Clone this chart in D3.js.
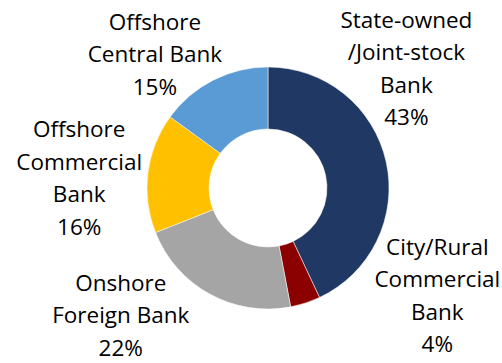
<!DOCTYPE html>
<html>
<head>
<meta charset="utf-8">
<script src="https://cdn.jsdelivr.net/npm/d3@7"></script>
<style>
  html, body { margin: 0; padding: 0; background: #fff; }
  svg { display: block; }
</style>
</head>
<body>
<svg id="chart" width="502" height="363"></svg>
<script>
var categories = ["State-owned\n/Joint-stock\nBank", "City/Rural\nCommercial\nBank", "Onshore\nForeign Bank", "Offshore\nCommercial\nBank", "Offshore\nCentral Bank"],
    shares = [43, 4, 22, 16, 15],
    colors = ["#203864", "#8b0000", "#a5a5a5", "#ffc000", "#5b9bd5"];

// label nudges from the arc centroid (layout only)
var nudge = [[-8, -87], [123, -35], [-75, -4], [-40, 9], [-45, 0]];

var svg = d3.select("#chart"),
    cx = 268,
    cy = 188,
    outer = 121,
    inner = 59,
    lineGap = 32.5;

var data = categories.map(function(c, i) {
  return {name: c, value: shares[i], color: colors[i], nudge: nudge[i]};
});

var pie = d3.pie().sort(null).value(d => d.value),
    arc = d3.arc().innerRadius(inner).outerRadius(outer),
    labelArc = d3.arc().innerRadius(150).outerRadius(150);

var g = svg.append("g").attr("transform", "translate(" + cx + "," + cy + ")");

var arcs = pie(data);

g.selectAll("path")
    .data(arcs)
    .enter()
    .append("path")
    .attr("d", arc)
    .attr("fill", d => d.data.color)
    .attr("stroke", "#fff")
    .attr("stroke-width", 0.5);

var labels = g.selectAll("text")
    .data(arcs)
    .enter()
    .append("text")
    .attr("text-anchor", "middle")
    .attr("font-family", "'Open Sans', sans-serif")
    .attr("font-size", "22.5px")
    .attr("fill", "#000")
    .each(function(d) {
      var c = labelArc.centroid(d),
          x = c[0] + d.data.nudge[0],
          y = c[1] + d.data.nudge[1],
          lines = d.data.name.split("\n").concat([d.data.value + "%"]),
          y0 = y - (lines.length - 1) * lineGap / 2 + 8;
      var t = d3.select(this);
      lines.forEach(function(l, i) {
        t.append("tspan")
          .attr("x", x)
          .attr("y", y0 + i * lineGap)
          .text(l);
      });
    });
</script>
</body>
</html>
